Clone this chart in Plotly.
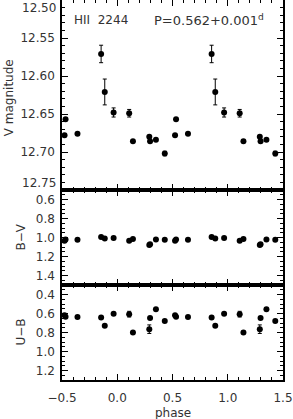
import plotly.graph_objects as go
from plotly.subplots import make_subplots

# base observations (phase in [-0.5, 0.5)); plotted twice (phase and phase+1)
phase = [-0.477, -0.468, -0.360, -0.146, -0.113, -0.033, 0.108, 0.142, 0.290, 0.297, 0.350, 0.430]
v_mag = [12.678, 12.657, 12.676, 12.571, 12.621, 12.648, 12.649, 12.686, 12.680, 12.686, 12.684, 12.702]
v_err = [None, None, None, 0.0115, 0.017, 0.006, 0.005, None, None, None, None, 0.003]
b_v = [1.035, 1.02, 1.025, 0.995, 1.01, 1.005, 1.035, 1.015, 1.08, 1.07, 1.02, 1.025]
u_b = [0.618, 0.635, 0.637, 0.643, 0.73, 0.603, 0.607, 0.80, 0.765, 0.648, 0.556, 0.68]
ub_err = [None, None, None, None, None, None, 0.03, None, 0.045, None, None, None]

x_ticks = [-0.5, 0.0, 0.5, 1.0, 1.5]
x_ticklabels = ["\u22120.5", "0.0", "0.5", "1.0", "1.5"]
v_ticks = [12.50, 12.55, 12.60, 12.65, 12.70, 12.75]
bv_ticks = [0.6, 0.8, 1.0, 1.2, 1.4]
ub_ticks = [0.4, 0.6, 0.8, 1.0, 1.2]

star_label = "HII\u00a0\u00a02244"
period_label = "P=0.562+0.001<sup>d</sup>"

x_all = phase + [p + 1 for p in phase]

FONT = "DejaVu Sans"
TXT = "#333333"

fig = make_subplots(rows=3, cols=1, shared_xaxes=True, vertical_spacing=0,
                    row_heights=[0.5, 0.25, 0.25])

def add(row, y, err):
    fig.add_trace(go.Scatter(
        x=x_all, y=y + y, mode="markers",
        marker=dict(color="black", size=6),
        error_y=dict(type="data", array=(err + err) if err else None,
                     visible=bool(err), color="black", thickness=1, width=2),
        showlegend=False, hoverinfo="skip"), row=row, col=1)

add(1, v_mag, v_err)
add(2, b_v, None)
add(3, u_b, ub_err)

axis_common = dict(showline=True, linecolor="black", linewidth=1.5, mirror="allticks",
                   ticks="inside", ticklen=6, tickwidth=1, tickcolor="black",
                   showgrid=False, zeroline=False, automargin=False,
                   ticklabeloverflow="allow",
                   tickfont=dict(family=FONT, size=12, color=TXT))

for r in (1, 2, 3):
    fig.update_xaxes(range=[-0.5, 1.5], tickvals=x_ticks, ticktext=x_ticklabels,
                     minor=dict(dtick=0.1, tick0=0, ticks="inside", ticklen=3,
                                tickcolor="black", tickwidth=1),
                     showticklabels=(r == 3), ticklabelstandoff=6,
                     row=r, col=1, **axis_common)

# inner V ticks labelled by the axis; the two end labels are nudged inward (as in the original)
v_inner = v_ticks[1:-1]
fig.update_yaxes(range=[12.75, 12.50], tickvals=v_inner,
                 ticktext=["%.2f" % t for t in v_inner],
                 minor=dict(dtick=0.01, tick0=12.5, ticks="inside", ticklen=3,
                            tickcolor="black", tickwidth=1),
                 ticklabelstandoff=3, row=1, col=1, **axis_common)
fig.update_yaxes(range=[1.5, 0.5], tickvals=bv_ticks,
                 ticktext=["%.1f" % t for t in bv_ticks],
                 minor=dict(dtick=0.05, tick0=0.5, ticks="inside", ticklen=3,
                            tickcolor="black", tickwidth=1),
                 ticklabelstandoff=3, row=2, col=1, **axis_common)
fig.update_yaxes(range=[1.3, 0.3], tickvals=ub_ticks,
                 ticktext=["%.1f" % t for t in ub_ticks],
                 minor=dict(dtick=0.05, tick0=0.3, ticks="inside", ticklen=3,
                            tickcolor="black", tickwidth=1),
                 ticklabelstandoff=3, row=3, col=1, **axis_common)

tf = dict(family=FONT, size=12, color=TXT)
fig.add_annotation(text="%.2f" % v_ticks[0], xref="paper", yref="y", x=-0.016, y=v_ticks[0],
                   xanchor="right", yanchor="top", yshift=1, showarrow=False, font=tf)
fig.add_annotation(text="%.2f" % v_ticks[-1], xref="paper", yref="y", x=-0.016, y=v_ticks[-1],
                   xanchor="right", yanchor="bottom", yshift=-2, showarrow=False, font=tf)

fig.add_annotation(text=star_label, xref="x", yref="y", x=-0.41, y=12.526,
                   xanchor="left", yanchor="middle", showarrow=False, font=tf)
fig.add_annotation(text=period_label, xref="x", yref="y", x=0.31, y=12.526,
                   xanchor="left", yanchor="middle", showarrow=False,
                   font=dict(family=FONT, size=13, color=TXT))
fig.add_annotation(text="V magnitude", xref="paper", yref="y", x=-0.24, y=12.628,
                   textangle=-90, showarrow=False, font=tf, xanchor="center", yanchor="middle")
fig.add_annotation(text="B\u2212V", xref="paper", yref="y2", x=-0.19, y=1.0,
                   textangle=-90, showarrow=False, font=tf, xanchor="center", yanchor="middle")
fig.add_annotation(text="U\u2212B", xref="paper", yref="y3", x=-0.19, y=0.8,
                   textangle=-90, showarrow=False, font=tf, xanchor="center", yanchor="middle")
fig.add_annotation(text="phase", xref="x3", yref="paper", x=0.5, y=-0.086,
                   showarrow=False, font=tf, xanchor="center", yanchor="middle")

fig.update_layout(width=293, height=419, margin=dict(l=62, r=10, t=0, b=39),
                  plot_bgcolor="white", paper_bgcolor="white")

fig.write_html("out.html", config={"displayModeBar": False},
               post_script="document.body.style.margin='0';document.body.style.padding='0';")
